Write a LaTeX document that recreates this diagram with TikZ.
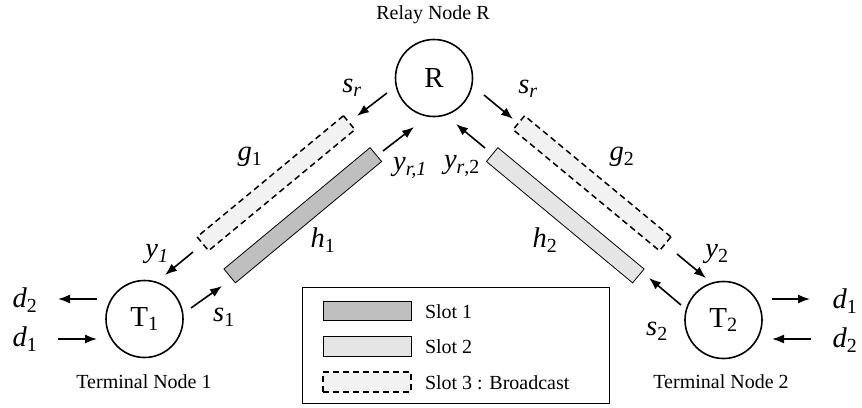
\documentclass[tikz,border=0pt]{standalone}
\usepackage{fontspec}
\setmainfont{Liberation Serif}
\usetikzlibrary{arrows.meta}
% italic symbol with a subscript, set as text
\newcommand\msym[2]{\textit{#1}\textsubscript{#2}}

\begin{document}
\begin{tikzpicture}[x=1pt,y=-1pt,
  every node/.style={inner sep=0pt, outer sep=0pt},
  station/.style={circle, draw, line width=1.6pt, minimum size=77pt, font=\fontsize{29}{32}\selectfont},
  caption/.style={font=\fontsize{20}{24}\selectfont},
  sym/.style={font=\fontsize{28.5}{32}\selectfont},
  flow/.style={line width=1.6pt, -{Latex[length=12pt,width=9pt]}},
  bar/.style={minimum width=190pt, minimum height=18pt},
  slotone/.style={draw, line width=0.8pt, fill=black!25},
  slottwo/.style={draw, line width=0.8pt, fill=black!10},
  slotthree/.style={draw, dash pattern=on 6pt off 4pt, line width=1.5pt, fill=black!5}
]
\useasboundingbox (0,0) rectangle (862,407);

% stations
\node[station] (R)  at (434,78)    {R};
\node[station] (T1) at (144.5,319) {T\textsubscript{1}};
\node[station] (T2) at (723.5,320) {T\textsubscript{2}};

\node[caption] (capR)  at (433,15)  {Relay Node R};
\node[caption] (capT1) at (144,382) {Terminal Node 1};
\node[caption] (capT2) at (721,382) {Terminal Node 2};

% channel bars
\node[bar, slotthree, rotate=39.6]  (g1bar) at (276,183.25)    {};
\node[bar, slotone,   rotate=39.7]  (h1bar) at (302.75,215.25) {};
\node[bar, slotthree, rotate=-39.6] (g2bar) at (592,183.25)    {};
\node[bar, slottwo,   rotate=-39.7] (h2bar) at (565.25,215.25) {};

% arrow end points
\coordinate (srLa) at (387,93);   \coordinate (srLb) at (357,116);
\coordinate (yr1a) at (383,151);  \coordinate (yr1b) at (414,127);
\coordinate (srRa) at (484,95);   \coordinate (srRb) at (513,119);
\coordinate (yr2a) at (485,148);  \coordinate (yr2b) at (456,124);
\coordinate (y1a) at (193,252);   \coordinate (y1b) at (165,275);
\coordinate (s1a) at (191,308);   \coordinate (s1b) at (222,286);
\coordinate (d2La) at (97,299);   \coordinate (d2Lb) at (58,299);
\coordinate (d1La) at (58,339);   \coordinate (d1Lb) at (97,339);
\coordinate (y2a) at (677,254);   \coordinate (y2b) at (706,278);
\coordinate (s2a) at (681,305);   \coordinate (s2b) at (649,278);
\coordinate (d1Ra) at (772,299);  \coordinate (d1Rb) at (810,299);
\coordinate (d2Ra) at (811,339);  \coordinate (d2Rb) at (772,339);

\foreach \a/\b in {srLa/srLb, yr1a/yr1b, srRa/srRb, yr2a/yr2b, y1a/y1b, s1a/s1b,
                   d2La/d2Lb, d1La/d1Lb, y2a/y2b, s2a/s2b, d1Ra/d1Rb, d2Ra/d2Rb}
  \draw[flow] (\a) -- (\b);

% signal labels
\node[sym] (lsrL) at (352,88)  {\msym{s}{\textit{r}}};
\node[sym] (lsrR) at (528,89)  {\msym{s}{\textit{r}}};
\node[sym] (lg1)  at (250,157) {\msym{g}{1}};
\node[sym] (lg2)  at (622,157) {\msym{g}{2}};
\node[sym] (lyr1) at (410,168) {\msym{y}{\textit{r,1}}};
\node[sym] (lyr2) at (462,166) {\msym{y}{\textit{r},2}};
\node[sym] (lh1)  at (323,240) {\msym{h}{1}};
\node[sym] (lh2)  at (545,240) {\msym{h}{2}};
\node[sym] (ly1)  at (157,254) {\msym{y}{\textit{1}}};
\node[sym] (ly2)  at (717,254) {\msym{y}{2}};
\node[sym] (ls1)  at (224,317) {\msym{s}{1}};
\node[sym] (ls2)  at (657,331) {\msym{s}{2}};
\node[sym] (ld2L) at (25,300)  {\msym{d}{2}};
\node[sym] (ld1L) at (25,339)  {\msym{d}{1}};
\node[sym] (ld1R) at (845,301) {\msym{d}{1}};
\node[sym] (ld2R) at (845,340) {\msym{d}{2}};

% legend
\node[draw, line width=0.9pt, minimum width=307pt, minimum height=116pt] (legend) at (455.5,345) {};
\node[slotone,   minimum width=88pt, minimum height=19pt] (key1) at (367,310.5) {};
\node[slottwo,   minimum width=88pt, minimum height=20pt] (key2) at (367,346)   {};
\node[slotthree, minimum width=88pt, minimum height=20pt] (key3) at (367,382)   {};
\node[caption, anchor=west] (lab1) at (425,312) {Slot 1};
\node[caption, anchor=west] (lab2) at (425,347) {Slot 2};
\node[caption, anchor=west] (lab3) at (425,383) {Slot 3 : Broadcast};
\end{tikzpicture}
\end{document}
